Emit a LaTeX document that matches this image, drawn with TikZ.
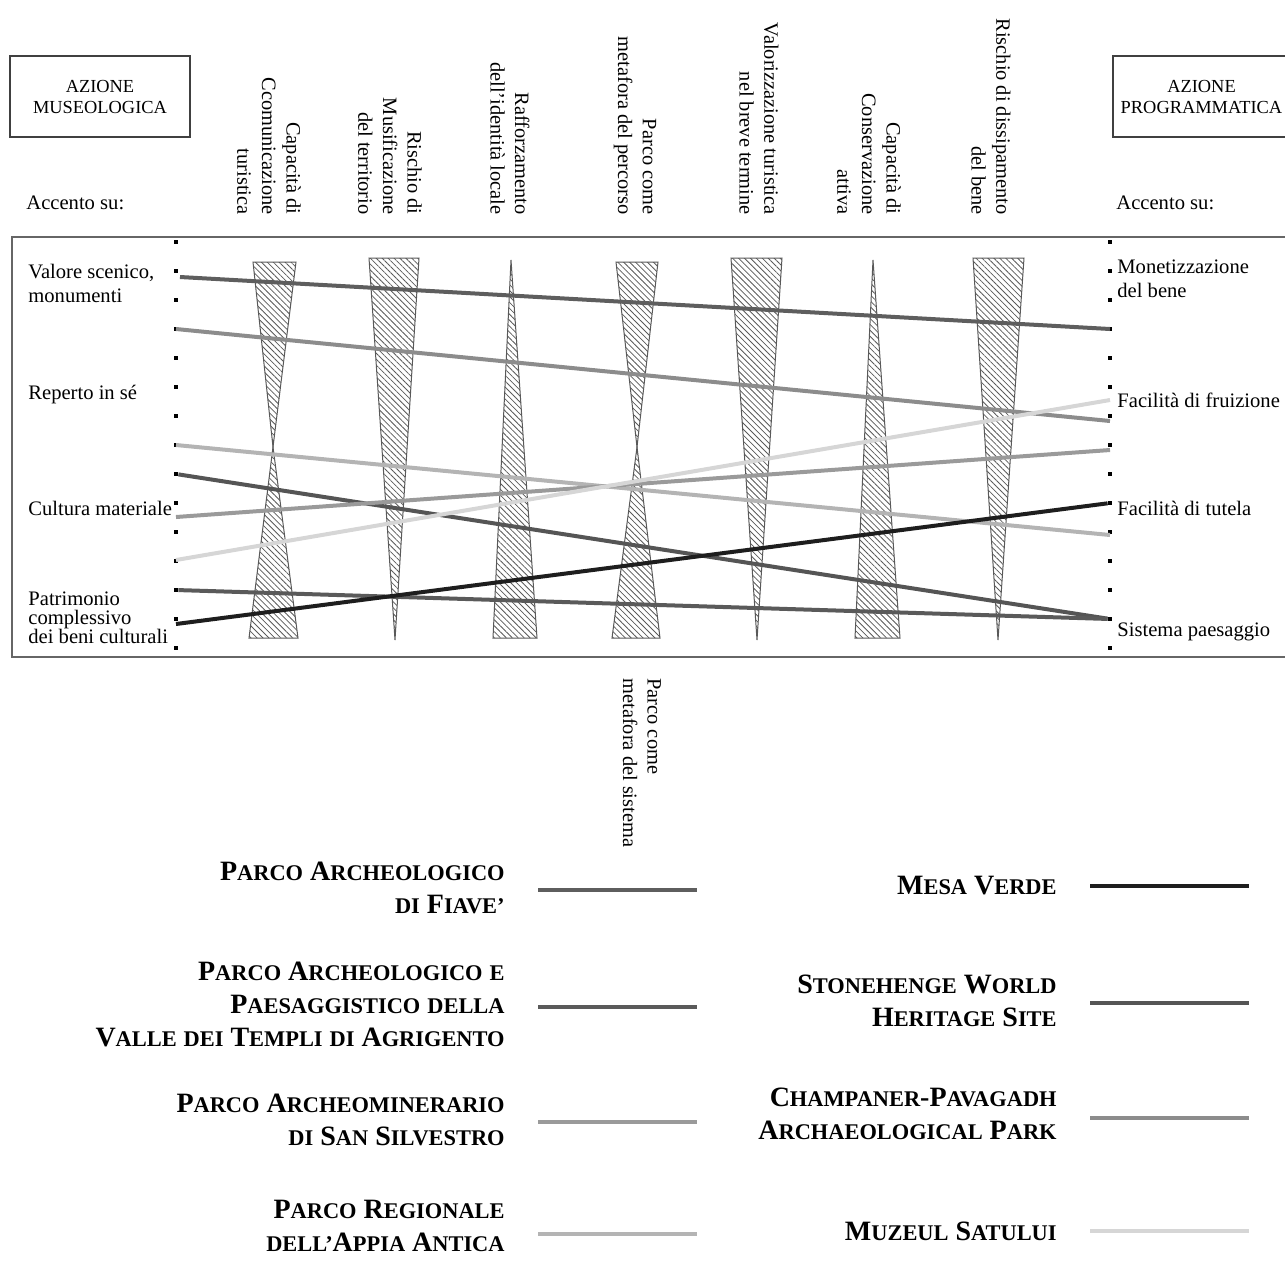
\documentclass[tikz,border=0pt]{standalone}
\usepackage{fontspec}
\setmainfont{Liberation Serif}
\usetikzlibrary{positioning, patterns.meta}

\definecolor{cFiave}{HTML}{5E5E5E}
\definecolor{cAgrig}{HTML}{5A5A5A}
\definecolor{cSilv}{HTML}{9A9A9A}
\definecolor{cAppia}{HTML}{B4B4B4}
\definecolor{cMesa}{HTML}{1E1E1E}
\definecolor{cStone}{HTML}{555555}
\definecolor{cChamp}{HTML}{8C8C8C}
\definecolor{cMuzeul}{HTML}{D6D6D6}
\newcommand{\sC}[2]{{\fontsize{14}{16.5}\selectfont #1}{\fontsize{11.2}{16.5}\selectfont #2}}

\tikzset{
  dot/.style={rectangle, fill=black, inner sep=0pt, minimum size=2pt},
  hatch/.style={draw=gray!70!black, line width=0.5pt, pattern={Lines[angle=-45, distance=2.1pt, line width=0.4pt]}, pattern color=gray!70!black},
  lab/.style={anchor=west, align=left, inner sep=0pt, font=\fontsize{10.3}{12}\selectfont},
  colhead/.style={rotate=-90, anchor=east, align=right, inner sep=0pt, font=\fontsize{10.2}{12.3}\selectfont},
  headbox/.style={draw=black!75, line width=0.6pt, align=center, minimum height=40.5pt, font=\fontsize{9.2}{10.5}\selectfont},
  park/.style={line width=2pt},
  legtext/.style={anchor=east, align=right, inner sep=0pt, font=\bfseries\fontsize{14}{16.5}\selectfont},
}

\begin{document}
\begin{tikzpicture}[x=0.5pt, y=-0.5pt]
  \useasboundingbox (0,0) rectangle (1285,1260);
  \path[clip] (0,0) rectangle (1285,1260);

  % intestazione
  \node[headbox, minimum width=90pt] (museo) at (100,96.5) {AZIONE\\MUSEOLOGICA};
  \node[headbox, minimum width=88.5pt] (progr) at (1201.5,96.5) {AZIONE\\PROGRAMMATICA};
  \node[lab] (accL) at (26,203) {Accento su:};
  \node[lab] (accR) at (1116,203) {Accento su:};

  \node[colhead] (hComunic) at (269,215) {Capacità di\\Ccomunicazione\\turistica};
  \node[colhead] (hMusei) at (390,215) {Rischio di\\Musificazione\\del territorio};
  \node[colhead] (hIdent) at (510,215) {Rafforzamento\\dell’identità locale};
  \node[colhead] (hPercorso) at (635,215) {Parco come\\metafora del percorso};
  \node[colhead] (hValor) at (759,215) {Valorizzazione turistica\\nel breve termine};
  \node[colhead] (hConserv) at (869,215) {Capacità di\\Conservazione\\attiva};
  \node[colhead] (hDissip) at (991,215) {Rischio di dissipamento\\del bene};

  % riquadro
  \draw[black!60, line width=0.8pt] (12,237) rectangle (1295,657);

  \foreach \i in {1,...,15} {
    \node[dot] (l\i) at (176,{242+29*(\i-1)}) {};
    \node[dot] (r\i) at (1110,{242+29*(\i-1)}) {};
  }

  \node[lab] (valore) at (28,283) {Valore scenico,\\monumenti};
  \node[lab] (reperto) at (28,395) {Reperto in sé};
  \node[lab] (cultura) at (28,508) {Cultura materiale};
  \node[lab, font=\fontsize{10.3}{9.6}\selectfont] (patrim) at (28,618) {Patrimonio\\complessivo\\dei beni culturali};
  \node[lab] (moneta) at (1117,279) {Monetizzazione\\del bene};
  \node[lab] (fruiz) at (1117,400) {Facilità di fruizione};
  \node[lab] (tutela) at (1117,508) {Facilità di tutela};
  \node[lab] (sistema) at (1117,632) {Sistema paesaggio};

  % colonne tratteggiate
  \draw[hatch] (253,262) -- (296,262) -- (273,447) -- cycle;
  \draw[hatch] (273,447) -- (298,638) -- (249,638) -- cycle;
  \draw[hatch] (369,258) -- (419,258) -- (395,640) -- cycle;
  \draw[hatch] (511,260) -- (537,638) -- (493,638) -- cycle;
  \draw[hatch] (616,262) -- (658,262) -- (637,447) -- cycle;
  \draw[hatch] (637,447) -- (660,638) -- (612,638) -- cycle;
  \draw[hatch] (731,258) -- (782,258) -- (757,640) -- cycle;
  \draw[hatch] (873,260) -- (900,638) -- (855,638) -- cycle;
  \draw[hatch] (973,258) -- (1024,258) -- (998,640) -- cycle;

  % parchi
  \coordinate (fiaveS) at (180,277);    \coordinate (fiaveE) at (1110,329);
  \coordinate (champS) at (176,329);    \coordinate (champE) at (1110,421);
  \coordinate (appiaS) at (176,445);    \coordinate (appiaE) at (1110,535);
  \coordinate (silvS) at (176,517);     \coordinate (silvE) at (1110,450);
  \coordinate (muzS) at (176,560);      \coordinate (muzE) at (1110,400);
  \draw[park, cFiave] (fiaveS) -- (fiaveE);
  \draw[park, cChamp] (champS) -- (champE);
  \draw[park, cAppia] (appiaS) -- (appiaE);
  \draw[park, cStone] (l9) -- (r14);
  \draw[park, cSilv] (silvS) -- (silvE);
  \draw[park, cMuzeul] (muzS) -- (muzE);
  \draw[park, cAgrig] (l13) -- (r14);
  \draw[park, cMesa] ([yshift=-2.5pt]l14.center) -- (r10);

  \node[rotate=-90, anchor=west, align=left, inner sep=0pt, font=\fontsize{10.2}{12.3}\selectfont] (hSistema) at (642,678) {Parco come\\metafora del sistema};

  % legenda
  \node[legtext] (tFiave) at (505,888) {\sC{P}{ARCO} \sC{A}{RCHEOLOGICO}\\\sC{}{DI} \sC{F}{IAVE’}};
  \node[legtext] (tAgrig) at (505,1004) {\sC{P}{ARCO} \sC{A}{RCHEOLOGICO} \sC{}{E}\\\sC{P}{AESAGGISTICO} \sC{}{DELLA}\\\sC{V}{ALLE} \sC{}{DEI} \sC{T}{EMPLI} \sC{}{DI} \sC{A}{GRIGENTO}};
  \node[legtext] (tSilv) at (505,1120) {\sC{P}{ARCO} \sC{A}{RCHEOMINERARIO}\\\sC{}{DI} \sC{S}{AN} \sC{S}{ILVESTRO}};
  \node[legtext] (tAppia) at (505,1226) {\sC{P}{ARCO} \sC{R}{EGIONALE}\\\sC{}{DELL’}\sC{A}{PPIA} \sC{A}{NTICA}};
  \node[legtext] (tMesa) at (1057,886) {\sC{M}{ESA} \sC{V}{ERDE}};
  \node[legtext] (tStone) at (1057,1001) {\sC{S}{TONEHENGE} \sC{W}{ORLD}\\\sC{H}{ERITAGE} \sC{S}{ITE}};
  \node[legtext] (tChamp) at (1057,1114) {\sC{C}{HAMPANER}-\sC{P}{AVAGADH}\\\sC{A}{RCHAEOLOGICAL} \sC{P}{ARK}};
  \node[legtext] (tMuzeul) at (1057,1231) {\sC{M}{UZEUL} \sC{S}{ATULUI}};

  \coordinate (kFiave) at (538,890);     \coordinate (kFiave2) at (697,890);
  \coordinate (kAgrig) at (538,1007);    \coordinate (kAgrig2) at (697,1007);
  \coordinate (kSilv) at (538,1122);     \coordinate (kSilv2) at (697,1122);
  \coordinate (kAppia) at (538,1234);    \coordinate (kAppia2) at (697,1234);
  \coordinate (kMesa) at (1090,886);     \coordinate (kMesa2) at (1249,886);
  \coordinate (kStone) at (1090,1003);   \coordinate (kStone2) at (1249,1003);
  \coordinate (kChamp) at (1090,1118);   \coordinate (kChamp2) at (1249,1118);
  \coordinate (kMuzeul) at (1090,1231);  \coordinate (kMuzeul2) at (1249,1231);
  \draw[park, cFiave] (kFiave) -- (kFiave2);
  \draw[park, cAgrig] (kAgrig) -- (kAgrig2);
  \draw[park, cSilv] (kSilv) -- (kSilv2);
  \draw[park, cAppia] (kAppia) -- (kAppia2);
  \draw[park, cMesa] (kMesa) -- (kMesa2);
  \draw[park, cStone] (kStone) -- (kStone2);
  \draw[park, cChamp] (kChamp) -- (kChamp2);
  \draw[park, cMuzeul] (kMuzeul) -- (kMuzeul2);
\end{tikzpicture}
\end{document}
